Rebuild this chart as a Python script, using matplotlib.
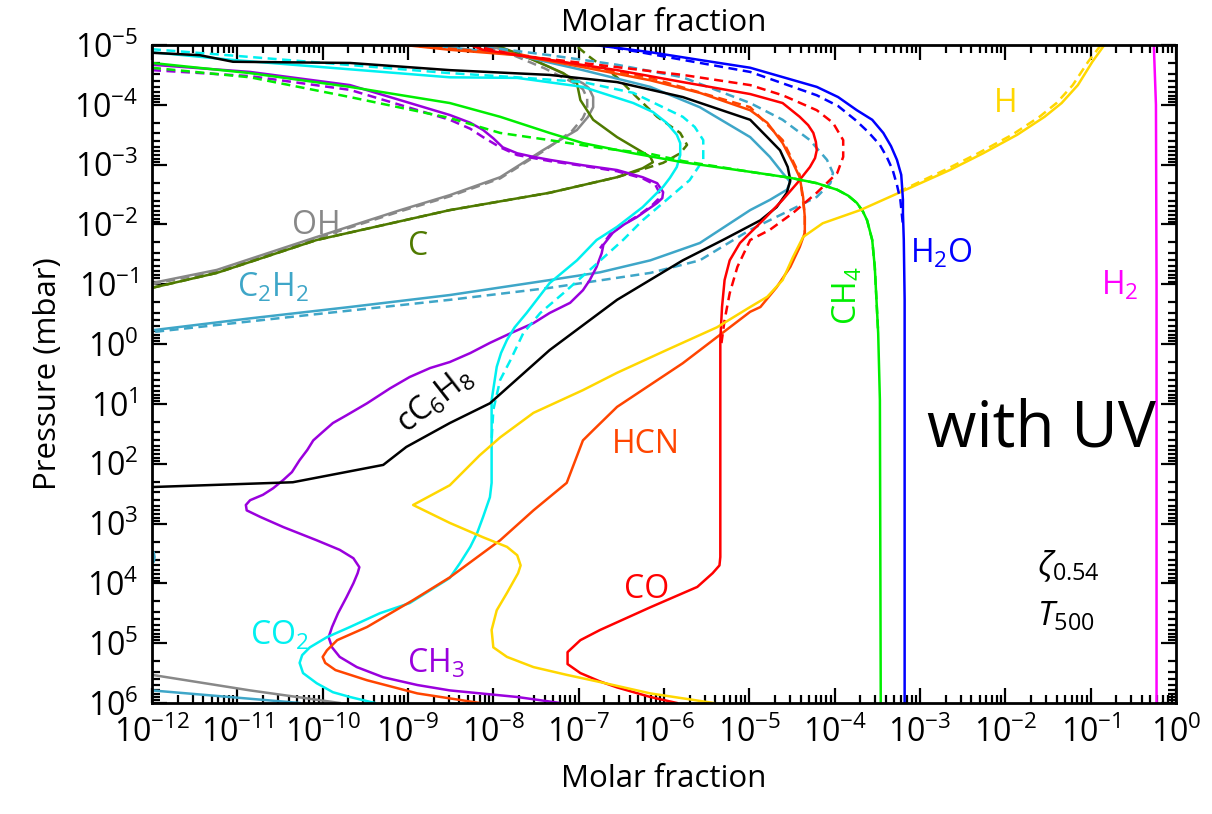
import numpy as np
import matplotlib
matplotlib.use("Agg")
import matplotlib.pyplot as plt
from matplotlib.ticker import FixedLocator, NullFormatter

plt.rcParams['font.family'] = ['Open Sans', 'DejaVu Sans']
plt.rcParams['mathtext.fontset'] = 'custom'
plt.rcParams['mathtext.rm'] = 'Open Sans'
plt.rcParams['mathtext.it'] = 'Open Sans:italic'
plt.rcParams['mathtext.bf'] = 'Open Sans:bold'
plt.rcParams['mathtext.sf'] = 'Open Sans'

# ---- data: log10(molar fraction) and log10(pressure / mbar) ----
x_decades = list(range(-12, 1))
p_decades = list(range(-5, 7))

H2_x = [-0.26, -0.235, -0.228, -0.228]
H2_p = [-5.0, -4.0, -1.0, 6.0]

H2O_x = [-6.81, -6.16, -5.58, -4.99, -4.21, -3.96, -3.74, -3.56, -3.43, -3.34, -3.27, -3.22, -3.21,
         -3.20, -3.20, -3.19, -3.18, -3.18]
H2O_p = [-5.0, -4.88, -4.75, -4.62, -4.30, -4.13, -3.91, -3.75, -3.53, -3.31, -3.08, -2.83, -2.63,
         -2.41, -2.19, -1.74, -0.74, 6.0]
H2O_dx = [-6.75, -4.99, -4.21, -3.96, -3.76, -3.61, -3.47, -3.39, -3.32, -3.27, -3.23, -3.20]
H2O_dp = [-5.0, -4.55, -4.16, -3.98, -3.75, -3.55, -3.33, -3.13, -2.91, -2.66, -2.41, -1.99]

H_x = [-0.84, -0.98, -1.15, -1.34, -1.54, -1.86, -2.26, -2.65, -3.23, -3.70, -4.14, -4.37, -4.49,
       -4.61, -4.79, -4.99, -5.38, -5.97, -6.55, -6.95, -7.53, -7.92, -8.16, -8.51, -8.94, -8.51,
       -8.12, -7.84, -7.72, -7.68, -7.71, -7.84, -7.96, -8.02, -8.00, -7.84, -7.53, -7.14, -6.75,
       -6.16, -5.42]
H_p = [-5.0, -4.72, -4.33, -4.03, -3.80, -3.50, -3.19, -2.91, -2.54, -2.24, -2.02, -1.79, -1.45,
       -1.07, -0.79, -0.62, -0.28, 0.10, 0.48, 0.77, 1.15, 1.56, 1.86, 2.36, 2.69, 2.99,
       3.23, 3.39, 3.53, 3.70, 3.83, 4.16, 4.45, 4.78, 5.07, 5.23, 5.40, 5.53, 5.65,
       5.84, 6.0]
H_dx = [-0.88, -1.03, -1.21, -1.40, -1.60, -1.92, -2.32, -2.71, -3.23]
H_dp = [-5.0, -4.72, -4.33, -4.03, -3.80, -3.50, -3.19, -2.91, -2.56]

CH4_x = [-12.0, -10.85, -9.68, -8.51, -7.92, -7.34, -6.95, -6.36, -5.78, -4.99, -4.52, -4.21,
         -3.97, -3.84, -3.74, -3.67, -3.62, -3.56, -3.53, -3.49, -3.47, -3.46]
CH4_p = [-4.70, -4.53, -4.30, -4.03, -3.80, -3.53, -3.36, -3.19, -3.04, -2.88, -2.78, -2.69,
         -2.58, -2.48, -2.36, -2.22, -2.07, -1.74, -1.29, -0.18, 0.94, 6.0]
CH4_dx = [-12.0, -10.85, -9.68, -8.51, -7.92, -7.34, -6.75, -6.16, -5.78, -4.99, -4.52, -4.21,
          -3.97, -3.84, -3.74, -3.67, -3.62, -3.56, -3.53, -3.49]
CH4_dp = [-4.62, -4.46, -4.13, -3.78, -3.53, -3.41, -3.28, -3.18, -3.06, -2.88, -2.78, -2.69,
          -2.58, -2.48, -2.36, -2.22, -2.07, -1.74, -1.29, -0.18]

CO_x = [-8.27, -8.12, -7.34, -6.55, -5.78, -4.99, -4.61, -4.41, -4.31, -4.25, -4.22, -4.21, -4.23,
        -4.29, -4.44, -4.61, -4.84, -4.99, -5.11, -5.23, -5.29, -5.32, -5.34, -5.34, -5.34, -5.35,
        -5.43, -5.61, -6.16, -6.75, -6.98, -7.13, -7.13, -6.98, -6.75, -6.55, -6.16, -5.85]
CO_p = [-5.0, -4.92, -4.75, -4.58, -4.38, -4.18, -4.03, -3.80, -3.66, -3.53, -3.38, -3.24, -3.11,
        -2.96, -2.69, -2.41, -2.07, -1.86, -1.69, -1.40, -1.07, -0.62, -0.07, 1.61, 3.56, 3.70,
        3.83, 4.06, 4.40, 4.78, 4.95, 5.15, 5.35, 5.50, 5.64, 5.74, 5.90, 6.0]
CO_dx = [-8.27, -7.72, -6.55, -5.78, -4.99, -4.61, -4.21, -4.02, -3.90, -3.90, -3.97, -4.21, -4.49,
         -4.76, -4.99, -5.14, -5.23, -5.29, -5.33]
CO_dp = [-5.0, -4.83, -4.63, -4.50, -4.33, -4.16, -3.91, -3.70, -3.41, -3.13, -2.86, -2.53, -2.19,
         -1.91, -1.74, -1.29, -0.85, -0.40, 0.02]

HCN_x = [-9.04, -8.51, -7.72, -6.95, -6.16, -5.58, -4.99, -4.79, -4.61, -4.49, -4.41, -4.37, -4.35,
         -4.35, -4.41, -4.52, -4.68, -4.87, -4.99, -5.78, -6.55, -6.83, -6.95, -7.14, -7.53, -7.92,
         -8.51, -8.94, -9.48, -9.83, -9.95, -10.00, -9.97, -9.85, -9.48, -8.89, -8.16]
HCN_p = [-5.0, -4.92, -4.83, -4.63, -4.41, -4.20, -3.91, -3.70, -3.36, -3.03, -2.79, -2.46, -2.12,
         -1.86, -1.62, -1.29, -0.95, -0.62, -0.54, 0.32, 1.05, 1.44, 1.61, 2.32, 2.78, 3.28,
         3.90, 4.28, 4.73, 4.95, 5.12, 5.23, 5.33, 5.45, 5.62, 5.84, 6.0]
HCN_dx = [-9.04, -7.72, -6.16, -4.99, -4.61, -4.41, -4.35, -4.35]
HCN_dp = [-5.0, -4.85, -4.45, -3.96, -3.41, -2.83, -2.16, -1.82]

CO2_x = [-12.0, -11.05, -8.51, -7.72, -6.95, -6.36, -6.13, -5.97, -5.85, -5.81, -5.81, -5.85, -5.93,
         -6.01, -6.25, -6.55, -6.79, -7.02, -7.34, -7.61, -7.75, -7.84, -7.91, -7.96, -8.02, -8.02,
         -8.04, -8.12, -8.19, -8.27, -8.39, -8.51, -8.98, -9.33, -9.68, -9.95, -10.15, -10.24,
         -10.27, -10.23, -10.07, -9.88, -9.68, -9.39]
CO2_p = [-4.88, -4.75, -4.46, -4.45, -4.30, -4.03, -3.88, -3.70, -3.50, -3.36, -3.16, -2.96, -2.78,
         -2.63, -2.29, -1.96, -1.74, -1.40, -1.02, -0.52, -0.28, -0.07, 0.15, 0.38, 0.94, 2.32,
         2.56, 2.89, 3.16, 3.39, 3.66, 3.91, 4.33, 4.50, 4.73, 4.90, 5.07, 5.20,
         5.33, 5.50, 5.67, 5.82, 5.90, 6.0]
CO2_dx = [-12.0, -10.85, -8.51, -7.72, -6.95, -6.36, -5.78, -5.64, -5.54, -5.54, -5.70, -5.97, -6.25,
          -6.48, -6.83, -7.18, -7.45, -7.65, -7.80, -7.92, -8.00, -8.02]
CO2_dp = [-4.93, -4.80, -4.53, -4.46, -4.38, -4.20, -3.80, -3.63, -3.41, -3.08, -2.74, -2.41, -2.07,
          -1.74, -1.29, -0.85, -0.52, -0.18, 0.27, 0.60, 1.10, 1.61]

CH3_x = [-12.0, -10.85, -9.68, -8.51, -8.27, -8.12, -8.00, -7.89, -7.72, -7.53, -7.34, -6.95, -6.55,
         -6.25, -6.08, -6.01, -6.02, -6.08, -6.20, -6.32, -6.48, -6.60, -6.71, -6.73, -6.79, -6.87,
         -6.95, -7.10, -7.34, -7.53, -7.80, -8.04, -8.27, -8.51, -8.74, -8.98, -9.21, -9.48, -9.72,
         -9.88, -10.00, -10.11, -10.18, -10.27, -10.36, -10.46, -10.58, -10.70, -10.85, -10.90,
         -10.89, -10.73, -10.46, -10.07, -9.80, -9.64, -9.57, -9.59, -9.64, -9.72, -9.82, -9.89,
         -9.93, -9.89, -9.80, -9.60, -9.29, -8.89, -8.51, -7.72, -7.22]
CH3_p = [-4.67, -4.55, -4.33, -3.83, -3.70, -3.58, -3.44, -3.29, -3.19, -3.13, -3.08, -2.99, -2.91,
         -2.79, -2.69, -2.54, -2.44, -2.36, -2.24, -2.12, -1.99, -1.86, -1.66, -1.52, -1.29, -1.07,
         -0.90, -0.69, -0.52, -0.35, -0.18, -0.02, 0.15, 0.30, 0.40, 0.55, 0.74, 0.99, 1.19,
         1.32, 1.47, 1.61, 1.77, 1.94, 2.14, 2.27, 2.41, 2.52, 2.61, 2.69,
         2.78, 2.89, 3.06, 3.28, 3.44, 3.58, 3.73, 3.83, 4.00, 4.23, 4.50, 4.73,
         4.90, 5.07, 5.23, 5.40, 5.57, 5.70, 5.79, 5.90, 6.0]
CH3_dx = [-12.0, -10.85, -9.68, -8.51, -8.27, -8.12, -7.92, -7.72, -7.34, -6.95, -6.55, -6.25, -6.10,
          -6.05, -6.07, -6.14, -6.28, -6.45, -6.63, -6.75]
CH3_dp = [-4.58, -4.48, -4.25, -3.75, -3.60, -3.46, -3.29, -3.16, -3.06, -2.98, -2.89, -2.77, -2.66,
          -2.52, -2.42, -2.32, -2.17, -2.02, -1.84, -1.60]

C_x = [-12.0, -11.24, -10.07, -8.51, -7.34, -6.55, -6.25, -6.13, -6.16, -6.55, -6.83, -6.98, -7.02,
       -7.18, -7.53, -7.92, -7.98]
C_p = [-0.94, -1.19, -1.74, -2.24, -2.53, -2.79, -2.94, -3.04, -3.13, -3.46, -3.75, -4.08, -4.36,
       -4.53, -4.75, -4.97, -5.0]
C_dx = [-12.0, -11.24, -10.07, -8.51, -7.34, -6.55, -6.32, -6.01, -5.81, -5.73, -5.81, -6.08, -6.32,
        -6.55, -6.87, -7.04]
C_dp = [-0.94, -1.19, -1.74, -2.24, -2.53, -2.79, -2.89, -3.03, -3.19, -3.33, -3.53, -3.80, -4.13,
        -4.46, -4.80, -5.0]

OH_x = [-12.0, -11.24, -10.07, -9.09, -8.51, -7.92, -7.42, -7.02, -6.89, -6.83, -6.83, -6.88, -6.95,
        -7.34, -7.72, -8.12]
OH_p = [-1.02, -1.24, -1.79, -2.24, -2.49, -2.79, -3.24, -3.58, -3.80, -3.96, -4.13, -4.28, -4.36,
        -4.63, -4.87, -5.0]
OH_dx = [-12.0, -11.24, -10.07, -9.09, -8.51, -7.92, -7.42, -7.08, -6.95, -6.90, -6.90, -6.95, -7.02,
         -7.40, -7.80, -8.20]
OH_dp = [-1.00, -1.22, -1.77, -2.22, -2.47, -2.77, -3.22, -3.56, -3.78, -3.94, -4.11, -4.26, -4.34,
         -4.61, -4.85, -5.0]
OH_bx = [-12.0, -10.85, -9.80]
OH_bp = [5.53, 5.79, 6.0]

C2H2_x = [-8.74, -7.72, -6.95, -6.16, -5.58, -4.99, -4.76, -4.61, -4.52, -4.56, -4.76, -4.99, -5.58,
          -6.16, -6.75, -7.34, -8.51, -9.68, -10.85, -12.0]
C2H2_p = [-5.0, -4.83, -4.58, -4.30, -3.96, -3.46, -3.13, -2.86, -2.71, -2.58, -2.41, -2.24, -1.69,
          -1.40, -1.20, -1.07, -0.82, -0.62, -0.43, -0.23]
C2H2_dx = [-8.27, -7.34, -6.55, -5.78, -4.99, -4.61, -4.29, -4.09, -4.02, -4.05, -4.21, -4.52, -4.99,
           -5.58, -6.16, -7.34, -8.51, -10.27, -12.0]
C2H2_dp = [-5.0, -4.83, -4.67, -4.46, -4.03, -3.75, -3.41, -3.08, -2.86, -2.69, -2.46, -2.24, -1.91,
           -1.40, -1.19, -0.94, -0.74, -0.47, -0.20]
C2H2_bx = [-12.0, -10.27]
C2H2_bp = [5.79, 6.0]
C2H2_fx = [-12.06, -11.98, -11.97, -11.98, -12.06]
C2H2_fp = [3.40, 3.48, 3.56, 3.64, 3.72]

C6H8_x = [-12.0, -11.44, -11.05, -9.68, -8.51, -7.34, -6.55, -5.78, -4.99, -4.79, -4.64, -4.55, -4.52,
          -4.56, -4.68, -4.87, -5.31, -5.78, -6.55, -7.34, -8.04, -8.51, -9.02, -9.29, -10.35, -12.0]
C6H8_p = [-4.87, -4.83, -4.72, -4.70, -4.58, -4.50, -4.38, -4.13, -3.75, -3.46, -3.24, -2.96, -2.74,
          -2.53, -2.29, -2.07, -1.74, -1.40, -0.74, 0.10, 0.99, 1.32, 1.72, 2.02, 2.31, 2.39]

# ---- figure ----
fig = plt.figure(figsize=(12.12, 8.14), dpi=100)
ax = fig.add_axes([0.1254, 0.1364, 0.8449, 0.8083])

lw = 1.8
dash = (0, (3.6, 2.2))


def curve(xs, ps, color, ls='-', w=lw):
    ax.plot(10.0 ** np.array(xs), 10.0 ** np.array(ps), color=color, ls=ls, lw=w,
            solid_joinstyle='round', dash_capstyle='butt')


c_H2 = '#ff00ff'
c_H2O = '#0000ff'
c_H = '#ffd700'
c_CH4 = '#00ee00'
c_CO = '#ff0000'
c_HCN = '#ff4500'
c_CO2 = '#00f0f0'
c_CH3 = '#9a00dd'
c_C = '#4f7a00'
c_OH = '#888888'
c_C2H2 = '#3ea6c8'
c_C6H8 = '#000000'

curve(OH_dx, OH_dp, c_OH, dash)
curve(OH_x, OH_p, c_OH)
curve(OH_bx, OH_bp, c_OH)
curve(C_dx, C_dp, c_C, dash)
curve(C_x, C_p, c_C)
curve(C2H2_dx, C2H2_dp, c_C2H2, dash)
curve(C2H2_x, C2H2_p, c_C2H2)
curve(C2H2_bx, C2H2_bp, c_C2H2)
curve(C2H2_fx, C2H2_fp, c_C2H2)
curve(CH3_dx, CH3_dp, c_CH3, dash)
curve(CH3_x, CH3_p, c_CH3)
curve(CO2_dx, CO2_dp, c_CO2, dash)
curve(CO2_x, CO2_p, c_CO2)
curve(C6H8_x, C6H8_p, c_C6H8)
curve(HCN_dx, HCN_dp, c_HCN, dash)
curve(HCN_x, HCN_p, c_HCN)
curve(CO_dx, CO_dp, c_CO, dash)
curve(CO_x, CO_p, c_CO)
curve(CH4_dx, CH4_dp, c_CH4, dash)
curve(CH4_x, CH4_p, c_CH4)
curve(H_dx, H_dp, c_H, dash)
curve(H_x, H_p, c_H)
curve(H2O_dx, H2O_dp, c_H2O, dash)
curve(H2O_x, H2O_p, c_H2O)
curve(H2_x, H2_p, c_H2)

ax.set_xscale('log')
ax.set_yscale('log')
ax.set_xlim(1e-12, 1e0)
ax.set_ylim(1e6, 1e-5)

xmaj = [10.0 ** d for d in x_decades]
ymaj = [10.0 ** d for d in p_decades]
xmin = [m * 10.0 ** d for d in x_decades[:-1] for m in range(2, 10)]
ymin = [m * 10.0 ** d for d in p_decades[:-1] for m in range(2, 10)]
ax.set_xticks(xmaj)
ax.set_yticks(ymaj)
ax.xaxis.set_minor_locator(FixedLocator(xmin))
ax.yaxis.set_minor_locator(FixedLocator(ymin))
ax.xaxis.set_minor_formatter(NullFormatter())
ax.yaxis.set_minor_formatter(NullFormatter())
ax.set_xticklabels([r'$\mathdefault{10^{%d}}$' % d for d in x_decades])
ax.set_yticklabels([r'$\mathdefault{10^{%d}}$' % d for d in p_decades])
ax.set_xlim(1e-12, 1e0)
ax.set_ylim(1e6, 1e-5)

ax.tick_params(which='both', direction='in', top=True, right=True, width=1.6, colors='black')
ax.tick_params(which='major', length=11, labelsize=23, pad=10)
ax.tick_params(which='minor', length=5.5)
for s in ax.spines.values():
    s.set_linewidth(2.0)

ax.set_xlabel('Molar fraction', fontsize=22.5, labelpad=10)
ax.set_ylabel('Pressure (mbar)', fontsize=22.5, labelpad=8)
ax.text(0.5, 1.01, 'Molar fraction', transform=ax.transAxes, ha='center', va='bottom', fontsize=22.5)

fs = 23
ax.text(10**-10.08, 10**-1.84, 'OH', color=c_OH, fontsize=fs, ha='center', va='baseline')
ax.text(10**-8.88, 10**-1.49, 'C', color=c_C, fontsize=fs, ha='center', va='baseline')
ax.text(10**-10.58, 10**-0.79, r'C$_2$H$_2$', color=c_C2H2, fontsize=fs, ha='center', va='baseline')
ax.text(10**-8.68, 10**0.94, r'cC$_6$H$_8$', color='black', fontsize=fs, ha='center', va='center',
        rotation=38, rotation_mode='anchor')
ax.text(10**-10.50, 10**5.03, r'CO$_2$', color=c_CO2, fontsize=fs, ha='center', va='baseline')
ax.text(10**-8.68, 10**5.50, r'CH$_3$', color=c_CH3, fontsize=fs, ha='center', va='baseline')
ax.text(10**-6.21, 10**1.82, 'HCN', color=c_HCN, fontsize=fs, ha='center', va='baseline')
ax.text(10**-6.20, 10**4.25, 'CO', color=c_CO, fontsize=fs, ha='center', va='baseline')
ax.text(10**-3.84, 10**-0.80, r'CH$_4$', color=c_CH4, fontsize=fs, ha='center', va='center', rotation=90)
ax.text(10**-2.75, 10**-1.37, r'H$_2$O', color=c_H2O, fontsize=fs, ha='center', va='baseline')
ax.text(10**-0.66, 10**-0.82, r'H$_2$', color=c_H2, fontsize=fs, ha='center', va='baseline')
ax.text(10**-2.0, 10**-3.88, 'H', color=c_H, fontsize=fs, ha='center', va='baseline')
ax.text(10**-1.58, 10**1.72, 'with UV', color='black', fontsize=46, ha='center', va='baseline')
ax.text(10**-1.63, 10**3.86, r'$\zeta_{\mathrm{0.54}}$', color='black', fontsize=24, ha='left', va='baseline')
ax.text(10**-1.63, 10**4.70, r'$T_{\mathrm{500}}$', color='black', fontsize=24, ha='left', va='baseline')

fig.savefig('out.png', dpi=100)
